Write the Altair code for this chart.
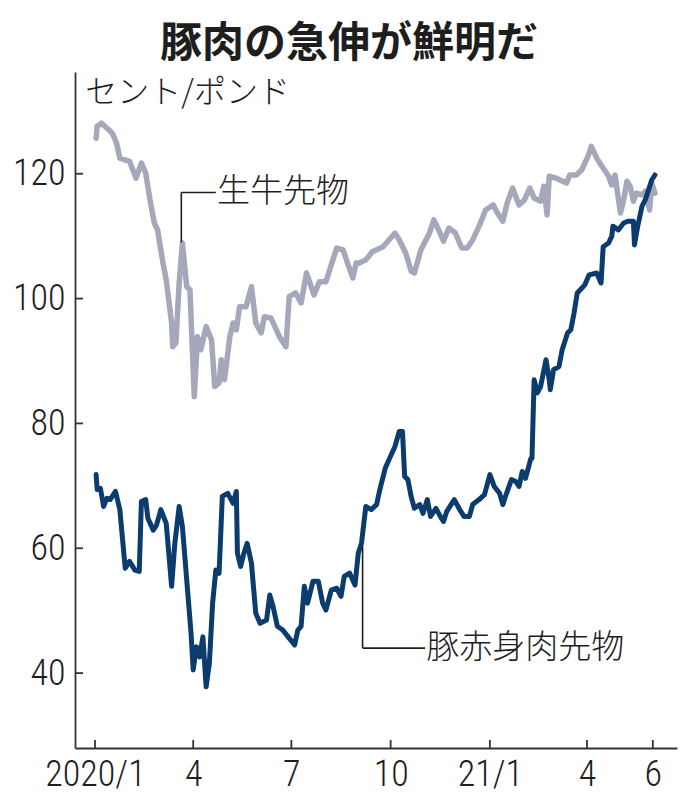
import altair as alt
import pandas as pd

# ---- text ----
TITLE = "豚肉の急伸が鮮明だ"
UNIT = "セント/ポンド"
CATTLE_NAME = "生牛先物"
HOG_NAME = "豚赤身肉先物"

# ---- live cattle futures (cents / lb) ----
cattle_dates = [
    "2020-01-02", "2020-01-03", "2020-01-07", "2020-01-14", "2020-01-17", "2020-01-21",
    "2020-01-24", "2020-02-02", "2020-02-08", "2020-02-13", "2020-02-17", "2020-02-21",
    "2020-02-25", "2020-02-28", "2020-03-04", "2020-03-07", "2020-03-12", "2020-03-13",
    "2020-03-16", "2020-03-19", "2020-03-22", "2020-03-26", "2020-03-29", "2020-04-02",
    "2020-04-05", "2020-04-08", "2020-04-13", "2020-04-18", "2020-04-21", "2020-04-25",
    "2020-04-27", "2020-04-30", "2020-05-05", "2020-05-08", "2020-05-11", "2020-05-14",
    "2020-05-20", "2020-05-25", "2020-05-29", "2020-06-03", "2020-06-06", "2020-06-12",
    "2020-06-20", "2020-06-26", "2020-06-29", "2020-07-05", "2020-07-10", "2020-07-15",
    "2020-07-22", "2020-07-27", "2020-08-02", "2020-08-12", "2020-08-18", "2020-08-22",
    "2020-08-27", "2020-08-30", "2020-09-02", "2020-09-08", "2020-09-14", "2020-09-24",
    "2020-10-05", "2020-10-09", "2020-10-15", "2020-10-20", "2020-10-23", "2020-10-29",
    "2020-11-06", "2020-11-10", "2020-11-15", "2020-11-19", "2020-11-24", "2020-11-30",
    "2020-12-06", "2020-12-11", "2020-12-16", "2020-12-22", "2020-12-28", "2021-01-04",
    "2021-01-08", "2021-01-13", "2021-01-17", "2021-01-22", "2021-01-28", "2021-02-02",
    "2021-02-07", "2021-02-11", "2021-02-17", "2021-02-20", "2021-02-23", "2021-02-25",
    "2021-03-03", "2021-03-13", "2021-03-16", "2021-03-22", "2021-03-27", "2021-04-02",
    "2021-04-05", "2021-04-10", "2021-04-16", "2021-04-21", "2021-04-24", "2021-04-27",
    "2021-05-02", "2021-05-05", "2021-05-08", "2021-05-11", "2021-05-14", "2021-05-17",
    "2021-05-22", "2021-05-25", "2021-05-29", "2021-05-31", "2021-06-03",
]
cattle_values = [
    125.7, 127.6, 128.1, 127.0, 126.5, 124.9,
    122.5, 122.0, 119.3, 121.7, 120.1, 115.8,
    112.1, 111.0, 105.7, 103.0, 96.1, 92.3,
    92.9, 102.5, 108.9, 101.9, 101.4, 84.3,
    93.9, 91.8, 95.5, 93.4, 85.9, 86.5,
    90.2, 87.0, 93.9, 96.1, 95.0, 98.7,
    98.7, 101.9, 96.1, 94.5, 97.1, 96.9,
    93.9, 92.3, 100.3, 100.9, 99.3, 104.1,
    100.6, 102.7, 102.7, 108.1, 107.8, 105.7,
    103.3, 105.7, 105.7, 106.2, 107.5, 108.3,
    110.5, 109.4, 107.3, 104.4, 104.1, 107.8,
    110.5, 112.6, 110.8, 109.2, 111.3, 110.5,
    108.1, 108.1, 109.4, 111.6, 114.2, 115.0,
    113.7, 112.4, 115.3, 117.7, 115.0, 115.8,
    117.7, 116.1, 115.6, 118.0, 113.4, 119.6,
    119.3, 118.5, 119.8, 119.8, 120.6, 122.8,
    124.4, 122.5, 120.9, 119.6, 118.2, 119.8,
    113.7, 115.8, 118.8, 118.0, 115.6, 116.9,
    116.6, 117.2, 114.2, 118.5, 116.9,
]

# ---- lean hog futures (cents / lb) ----
hog_dates = [
    "2020-01-02", "2020-01-03", "2020-01-06", "2020-01-09", "2020-01-12", "2020-01-15",
    "2020-01-20", "2020-01-24", "2020-01-29", "2020-02-02", "2020-02-07", "2020-02-11",
    "2020-02-13", "2020-02-17", "2020-02-19", "2020-02-24", "2020-02-27", "2020-03-02",
    "2020-03-07", "2020-03-12", "2020-03-15", "2020-03-19", "2020-03-22", "2020-03-27",
    "2020-03-30", "2020-04-01", "2020-04-04", "2020-04-07", "2020-04-10", "2020-04-13",
    "2020-04-16", "2020-04-19", "2020-04-22", "2020-04-25", "2020-04-28", "2020-05-03",
    "2020-05-08", "2020-05-11", "2020-05-12", "2020-05-15", "2020-05-18", "2020-05-21",
    "2020-05-25", "2020-05-29", "2020-06-02", "2020-06-08", "2020-06-11", "2020-06-14",
    "2020-06-18", "2020-06-23", "2020-06-28", "2020-07-04", "2020-07-07", "2020-07-10",
    "2020-07-13", "2020-07-16", "2020-07-21", "2020-07-26", "2020-07-30", "2020-08-02",
    "2020-08-07", "2020-08-12", "2020-08-16", "2020-08-19", "2020-08-24", "2020-08-29",
    "2020-09-01", "2020-09-04", "2020-09-08", "2020-09-13", "2020-09-18", "2020-09-21",
    "2020-09-26", "2020-09-30", "2020-10-05", "2020-10-09", "2020-10-12", "2020-10-14",
    "2020-10-17", "2020-10-20", "2020-10-23", "2020-10-28", "2020-10-31", "2020-11-04",
    "2020-11-07", "2020-11-12", "2020-11-16", "2020-11-19", "2020-11-22", "2020-11-29",
    "2020-12-04", "2020-12-08", "2020-12-13", "2020-12-16", "2020-12-22", "2020-12-27",
    "2021-01-01", "2021-01-05", "2021-01-10", "2021-01-13", "2021-01-16", "2021-01-21",
    "2021-01-25", "2021-01-28", "2021-01-31", "2021-02-03", "2021-02-08", "2021-02-09",
    "2021-02-11", "2021-02-14", "2021-02-17", "2021-02-22", "2021-02-25", "2021-02-26",
    "2021-03-01", "2021-03-06", "2021-03-09", "2021-03-14", "2021-03-17", "2021-03-20",
    "2021-03-23", "2021-03-30", "2021-04-03", "2021-04-10", "2021-04-14", "2021-04-16",
    "2021-04-21", "2021-04-24", "2021-04-25", "2021-04-30", "2021-05-05", "2021-05-09",
    "2021-05-14", "2021-05-15", "2021-05-18", "2021-05-22", "2021-05-25", "2021-05-28",
    "2021-05-31", "2021-06-03",
]
hog_values = [
    71.8, 69.4, 69.6, 66.7, 68.0, 67.8,
    69.1, 66.2, 56.8, 57.9, 56.5, 56.3,
    67.5, 67.8, 64.8, 62.9, 63.7, 66.2,
    64.0, 53.9, 60.8, 66.7, 63.5, 52.8,
    46.4, 40.5, 44.2, 42.6, 45.8, 37.8,
    41.6, 51.2, 56.5, 56.0, 68.3, 68.8,
    67.2, 69.1, 59.2, 57.1, 59.2, 60.8,
    57.6, 49.6, 48.0, 48.5, 52.5, 50.7,
    47.5, 46.9, 45.8, 44.5, 46.9, 47.5,
    53.9, 51.2, 54.7, 54.7, 51.2, 50.1,
    53.3, 53.6, 52.3, 55.5, 56.0, 54.1,
    59.2, 60.8, 66.7, 66.2, 67.0, 69.4,
    72.8, 74.4, 76.3, 78.7, 78.7, 71.5,
    71.0, 68.3, 66.4, 67.0, 65.6, 67.8,
    65.1, 66.4, 65.1, 64.3, 65.9, 67.8,
    66.2, 65.1, 65.1, 67.0, 67.8, 68.6,
    71.8, 69.9, 68.8, 67.0, 68.6, 71.0,
    70.7, 69.9, 72.3, 71.2, 74.4, 74.4,
    87.0, 84.9, 85.9, 90.2, 87.0, 85.4,
    88.6, 89.1, 91.8, 94.5, 95.0, 97.7,
    100.9, 102.2, 103.8, 104.1, 102.5, 108.3,
    108.9, 110.0, 111.6, 111.0, 112.1, 112.4,
    112.4, 108.6, 111.6, 114.8, 115.8, 117.4,
    119.0, 119.8,
]

# ---- axes ----
y_ticks = [40, 60, 80, 100, 120]
x_tick_dates = ["2020-01-01", "2020-04-01", "2020-07-01", "2020-10-01",
                "2021-01-01", "2021-04-01", "2021-06-01"]
x_tick_labels = ["2020/1", "4", "7", "10", "21/1", "4", "6"]

# ---- annotation anchors (date, value) ----
cattle_leader_date = "2020-03-21"
cattle_leader_top, cattle_leader_bottom = 117.0, 109.0
cattle_text_date = "2020-04-23"
hog_leader_date = "2020-09-05"
hog_leader_top, hog_leader_bottom = 60.3, 44.0
hog_text_date = "2020-11-03"
unit_date, unit_value = "2019-12-23", 133.0

GRAY = "#a5a7ba"
NAVY = "#0b3c6d"
INK = "#1e1e1e"
NUM_FONT = "Roboto Condensed, Liberation Sans Narrow, DejaVu Sans Condensed, sans-serif"
JP_FONT = "Noto Sans CJK JP"

W, H = 602, 676


def dt(s, hours=0):
    y, m, d = (int(p) for p in s.split("-"))
    return alt.DateTime(year=y, month=m, date=d, hours=hours, utc=True)


x_scale = alt.Scale(type="utc", domain=[dt("2019-12-13", 11), dt("2021-06-23", 10)])
y_scale = alt.Scale(domain=[28, 136.3], nice=False, zero=False)

label_expr = ""
for d, lab in zip(x_tick_dates, x_tick_labels):
    label_expr += f"utcFormat(datum.value, '%Y-%m-%d') == '{d}' ? '{lab}' : "
label_expr += "''"

cattle_df = pd.DataFrame({"d": cattle_dates, "v": cattle_values})
hog_df = pd.DataFrame({"d": hog_dates, "v": hog_values})

x_axis = alt.Axis(
    values=[dt(d) for d in x_tick_dates], labelExpr=label_expr, ticks=False,
    grid=False, title=None, labelFont=NUM_FONT, labelFontSize=36,
    labelFontWeight=300, labelColor=INK,
    labelPadding=9, domainColor="#333", domainWidth=1.8, labelFlush=False,
    labelOverlap=False,
)
y_axis = alt.Axis(
    values=y_ticks, ticks=False, grid=False, title=None, labelFont=NUM_FONT,
    labelFontSize=36, labelFontWeight=300, labelColor=INK, labelPadding=10,
    domainColor="#333", domainWidth=1.8,
)


def xenc(field="d"):
    return alt.X(f"{field}:T", scale=x_scale, axis=x_axis)


def yenc(field="v"):
    return alt.Y(f"{field}:Q", scale=y_scale, axis=y_axis)


cattle_line = alt.Chart(cattle_df).mark_line(
    color=GRAY, strokeWidth=5.5, strokeJoin="round", strokeCap="round"
).encode(x=xenc(), y=yenc())

hog_line = alt.Chart(hog_df).mark_line(
    color=NAVY, strokeWidth=5, strokeJoin="round", strokeCap="round"
).encode(x=xenc(), y=yenc())

# inward tick marks
y_tick_marks = alt.Chart(pd.DataFrame({"v": y_ticks})).mark_rule(
    color="#333", strokeWidth=1.8
).encode(y=yenc(), x=alt.value(0), x2=alt.value(8))
x_tick_marks = alt.Chart(pd.DataFrame({"d": x_tick_dates})).mark_rule(
    color="#333", strokeWidth=1.8
).encode(x=xenc(), y=alt.value(H - 8), y2=alt.value(H))

# leader lines for the series labels
vert_df = pd.DataFrame({
    "d": [cattle_leader_date, hog_leader_date],
    "top": [cattle_leader_top, hog_leader_top],
    "bottom": [cattle_leader_bottom, hog_leader_bottom],
})
horiz_df = pd.DataFrame({
    "d": [cattle_leader_date, hog_leader_date],
    "d2": ["2020-04-22", "2020-11-02"],
    "v": [cattle_leader_top, hog_leader_bottom],
})
leaders_v = alt.Chart(vert_df).mark_rule(color=INK, strokeWidth=1.6).encode(
    x=xenc(), y=yenc("top"), y2="bottom:Q",
)
leaders_h = alt.Chart(horiz_df).mark_rule(color=INK, strokeWidth=1.6).encode(
    x=xenc(), x2="d2:T", y=yenc(),
)

labels_df = pd.DataFrame({
    "d": [cattle_text_date, hog_text_date],
    "v": [cattle_leader_top, hog_leader_bottom],
    "t": [CATTLE_NAME, HOG_NAME],
})
series_labels = alt.Chart(labels_df).mark_text(
    align="left", baseline="middle", font=JP_FONT, fontSize=33,
    fontWeight=300, color=INK
).encode(x=xenc(), y=yenc(), text="t:N")

unit_label = alt.Chart(
    pd.DataFrame({"d": [unit_date], "v": [unit_value], "t": [UNIT]})
).mark_text(
    align="left", baseline="middle", font=JP_FONT, fontSize=32,
    fontWeight=300, color=INK
).encode(x=xenc(), y=yenc(), text="t:N")

chart = alt.layer(
    cattle_line, hog_line, y_tick_marks, x_tick_marks,
    leaders_v, leaders_h, series_labels, unit_label,
).properties(
    width=W, height=H,
    background="white",
    title=alt.TitleParams(
        TITLE, font=JP_FONT, fontSize=42, fontWeight="bold", color=INK,
        anchor="middle", dx=-27, offset=6,
    ),
    autosize=alt.AutoSizeParams(type="none"),
    padding={"left": 75, "top": 72, "right": 19, "bottom": 59},
).configure_view(stroke=None)

chart.save("out.html", embed_options={"renderer": "svg", "actions": False})
